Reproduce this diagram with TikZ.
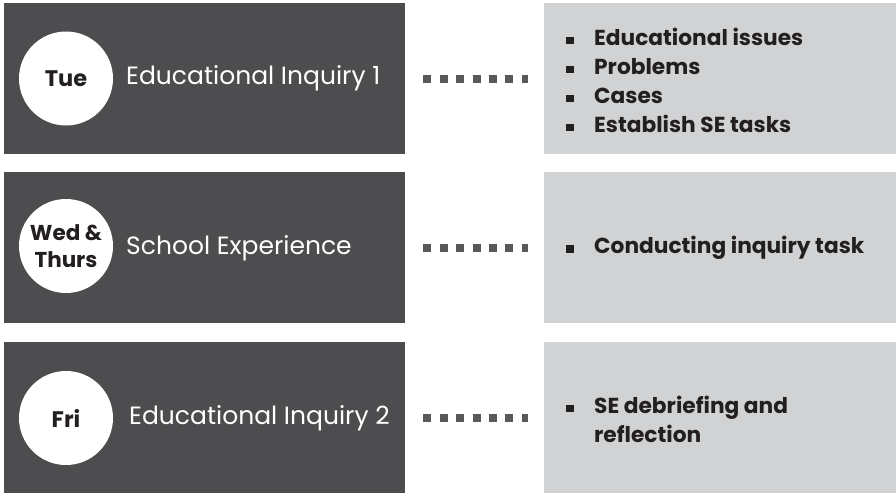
\documentclass[tikz,border=0pt]{standalone}
\usepackage{fontspec}
\setmainfont{Poppins}
\definecolor{darkgray}{HTML}{4D4D4F}
\definecolor{lightgray}{HTML}{D1D2D4}
\definecolor{dotgray}{HTML}{58595B}
\definecolor{textblack}{HTML}{231F20}
\newcommand{\blt}{\makebox[28pt][l]{\rule[1pt]{7.5pt}{7.5pt}}}
\tikzset{
  darkbox/.style={fill=darkgray, draw=none, minimum width=401pt, minimum height=151pt, anchor=north west, inner sep=0pt},
  lightbox/.style={fill=lightgray, draw=none, minimum width=352pt, minimum height=151pt, anchor=north west, inner sep=0pt},
  daycircle/.style={circle, fill=white, minimum size=94pt, inner sep=0pt, text=textblack, font=\bfseries\fontsize{22.5}{24}\selectfont, align=center},
  title/.style={anchor=west, inner sep=0pt, text=white, font=\fontsize{25}{29}\selectfont},
  listtext/.style={anchor=west, inner sep=0pt, text=textblack, align=left, font=\bfseries\fontsize{21.7}{29}\selectfont},
  dotline/.style={draw=dotgray, line width=8pt, dash pattern=on 8pt off 8.4pt}
}
\begin{document}
\begin{tikzpicture}[x=1pt,y=-1pt]
\useasboundingbox (0,0) rectangle (896,493);
% row 1
\node[darkbox] (d1) at (4,3) {};
\node[lightbox] (l1) at (544,3) {};
\node[daycircle] (c1) at (66,78.5) {Tue};
\node[title] (t1) at (126,78.5) {Educational Inquiry 1};
\node[listtext] (b1) at (566,80) {\blt Educational issues\\\blt Problems\\\blt Cases\\\blt Establish SE tasks};
\draw[dotline] ([xshift=18pt]d1.east) -- ([xshift=-15.6pt]l1.west);
% row 2
\node[darkbox] (d2) at (4,172) {};
\node[lightbox] (l2) at (544,172) {};
\node[daycircle, font=\bfseries\fontsize{21.5}{26}\selectfont] (c2) at (66,246) {Wed \&\\[1pt]Thurs};
\node[title] (t2) at (126,248) {School Experience};
\node[listtext] (b2) at (566,248) {\blt Conducting inquiry task};
\draw[dotline] ([xshift=18pt]d2.east) -- ([xshift=-15.6pt]l2.west);
% row 3
\node[darkbox] (d3) at (4,342) {};
\node[lightbox] (l3) at (544,342) {};
\node[daycircle] (c3) at (66,418) {Fri};
\node[title] (t3) at (129,418) {Educational Inquiry 2};
\node[listtext] (b3) at (566,419) {\blt SE debriefing and\\\hspace*{28pt}reflection};
\draw[dotline] ([xshift=18pt]d3.east) -- ([xshift=-15.6pt]l3.west);
\end{tikzpicture}
\end{document}
